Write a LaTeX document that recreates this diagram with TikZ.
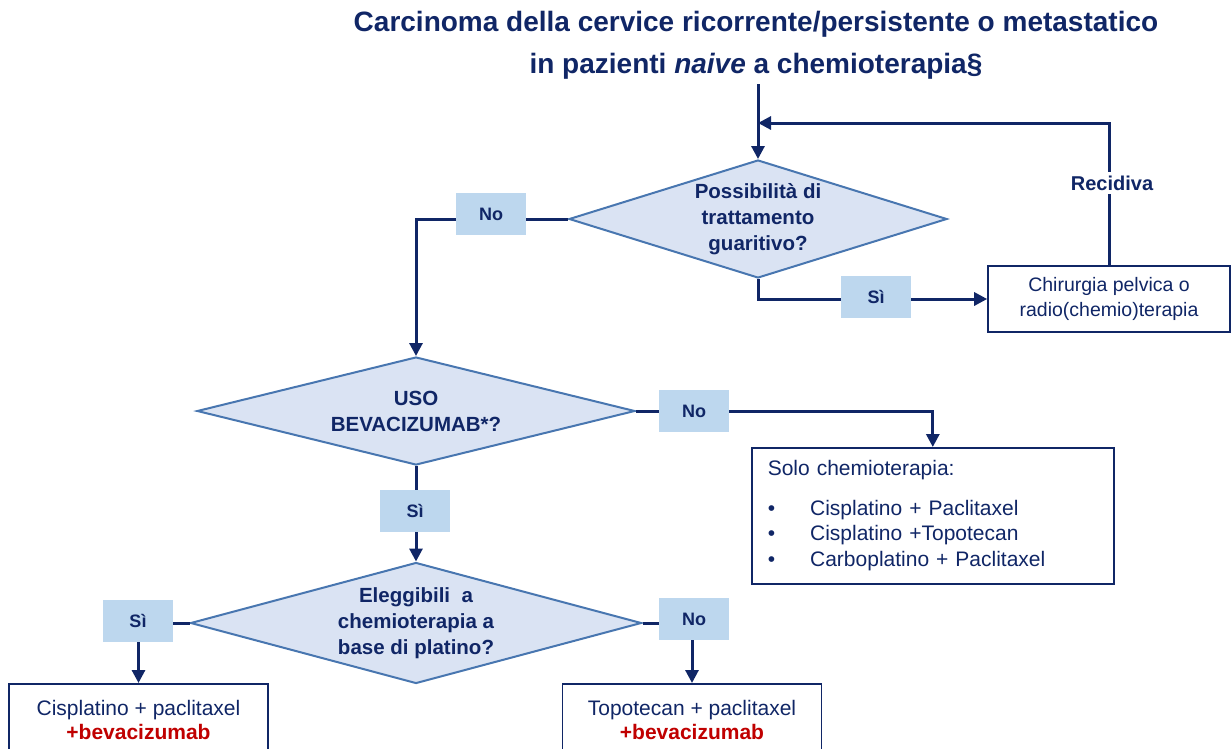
\documentclass[tikz,border=0pt]{standalone}
\usepackage{fontspec}
\setmainfont{Liberation Sans}
\usetikzlibrary{shapes.geometric,arrows.meta}
\definecolor{navy}{RGB}{16,38,102}
\definecolor{decfill}{RGB}{218,227,243}
\definecolor{decline}{RGB}{72,118,176}
\definecolor{labfill}{RGB}{189,215,238}
\definecolor{redtx}{RGB}{192,0,0}
\begin{document}
\begin{tikzpicture}[x=1pt,y=-1pt,
    dec/.style={diamond,draw=decline,line width=2pt,fill=decfill,inner sep=0pt,text=navy,align=center,font=\fontsize{20.5}{26}\selectfont\bfseries},
    lab/.style={fill=labfill,text=navy,minimum width=70pt,minimum height=42pt,font=\fontsize{18}{20}\selectfont\bfseries},
    box/.style={draw=navy,line width=1.6pt,fill=white,text=navy,align=center,font=\fontsize{21}{24}\selectfont},
    arr/.style={draw=navy,line width=3pt,-{Triangle[length=13pt,width=13pt]}}]
    \useasboundingbox (0,0) rectangle (1232,748);
    \node[text=navy,align=center,font=\fontsize{28}{42}\selectfont\bfseries] (title) at (756,45) {Carcinoma della cervice ricorrente/persistente o metastatico\\in pazienti \textit{naive} a chemioterapia§};
    \coordinate (top) at (758,84);\coordinate (join) at (758,123);
    % decisions and boxes
    \node[dec,shape aspect=3.2,minimum width=378pt,minimum height=118pt] (d1) at (758,219) {Possibilità di\\trattamento\\guaritivo?};
    \node[box,minimum width=242pt,minimum height=66pt,font=\fontsize{19.5}{25}\selectfont] (chir) at (1109,299) {Chirurgia pelvica o\\radio(chemio)terapia};
    \node[dec,shape aspect=4,minimum width=438pt,minimum height=108pt] (d2) at (416,411) {USO\\BEVACIZUMAB*?};
    \node[box,anchor=north west,align=left,text width=330pt,minimum height=136pt,inner xsep=16pt,font=\fontsize{21}{25.5}\selectfont] (solo) at (751,447) {Solo chemioterapia:\\[14pt]
        \textbullet\hspace{35pt}Cisplatino + Paclitaxel\\
        \textbullet\hspace{35pt}Cisplatino +Topotecan\\
        \textbullet\hspace{35pt}Carboplatino + Paclitaxel};
    \node[dec,shape aspect=3.7,minimum width=451pt,minimum height=121pt] (d3) at (416,623) {Eleggibili\ \ a\\chemioterapia a\\base di platino?};
    \node[box,anchor=north,minimum width=259pt,minimum height=72pt] (cis) at (138.5,683) {Cisplatino + paclitaxel\\\textcolor{redtx}{\bfseries +bevacizumab}};
    \node[box,anchor=north,minimum width=259pt,minimum height=72pt] (topo) at (692,683) {Topotecan + paclitaxel\\\textcolor{redtx}{\bfseries +bevacizumab}};
    % connectors
    \draw[arr] (top) -- (d1.north);
    \draw[arr] (chir.north) |- (join);
    \draw[arr] (d1.west) -| (d2.north);
    \draw[arr] (d1.south) |- (chir.west);
    \draw[arr] (d2.east) -| (solo.north);
    \draw[arr] (d2.south) -- (d3.north);
    \draw[arr] (d3.west) -| (cis.north);
    \draw[arr] (d3.east) -| (topo.north);
    % labels
    \node[lab] (no1) at (491,214) {No};
    \node[lab] (si1) at (876,297) {Sì};
    \node[lab] (no2) at (694,411) {No};
    \node[lab] (si2) at (415,511) {Sì};
    \node[lab] (si3) at (138,621) {Sì};
    \node[lab] (no3) at (694,619) {No};
    \node[fill=white,text=navy,font=\fontsize{20}{22}\selectfont\bfseries] (rec) at (1112,183) {Recidiva};
\end{tikzpicture}
\end{document}
